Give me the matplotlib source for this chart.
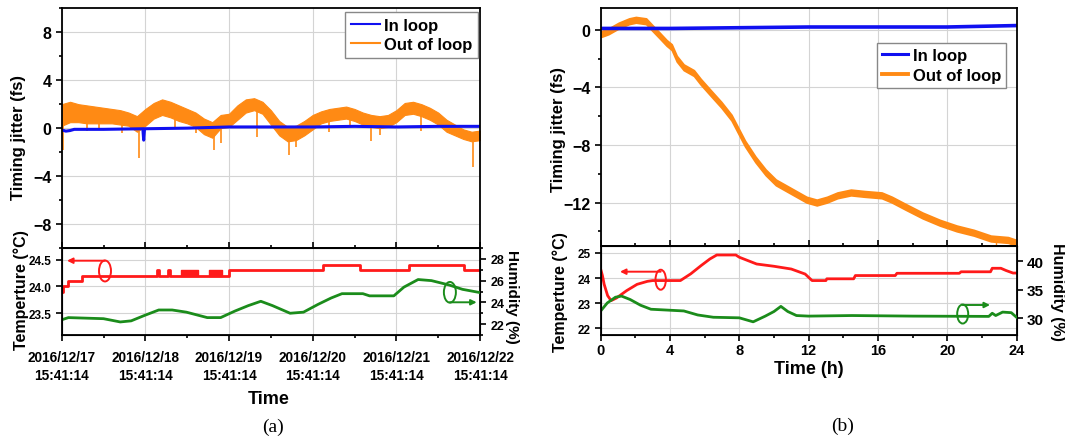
import matplotlib
matplotlib.use("Agg")
import matplotlib.pyplot as plt
from matplotlib.patches import Ellipse
from matplotlib.ticker import MultipleLocator

plt.rcParams["font.family"] = ["Liberation Sans", "DejaVu Sans"]
plt.rcParams["font.weight"] = "bold"

BLUE = "#1010f0"
ORANGE = "#ff8a14"
RED = "#ff1a1a"
GREEN = "#1b8c1b"

# ---- panel (a): 5 days of jitter, days since 2016/12/17 15:41:14 ----
days_a = [0.0, 0.1, 0.2, 0.3, 0.4, 0.5, 0.6, 0.7, 0.8, 0.9,
          1.0, 1.1, 1.2, 1.3, 1.4, 1.5, 1.6, 1.7, 1.8, 1.9,
          2.0, 2.1, 2.2, 2.3, 2.4, 2.5, 2.6, 2.7, 2.8, 2.9,
          3.0, 3.1, 3.2, 3.3, 3.4, 3.5, 3.6, 3.7, 3.8, 3.9,
          4.0, 4.1, 4.2, 4.3, 4.4, 4.5, 4.6, 4.7, 4.8, 4.9, 5.0]
out_a_lo = [0.2, 0.5, 0.5, 0.4, 0.4, 0.4, 0.4, 0.3, 0.2, -0.3,
            0.2, 0.8, 1.1, 0.9, 0.6, 0.4, 0.1, -0.5, -0.8, 0.0,
            0.1, 0.7, 1.3, 1.5, 1.2, 0.3, -0.6, -1.1, -1.0, -0.6,
            -0.1, 0.4, 0.6, 0.7, 0.8, 0.6, 0.3, 0.1, 0.0, 0.1,
            0.5, 1.1, 1.2, 1.0, 0.7, 0.3, -0.3, -0.6, -0.9, -1.1, -1.0]
out_a_hi = [2.0, 2.2, 2.0, 1.9, 1.8, 1.7, 1.6, 1.5, 1.3, 1.0,
            1.6, 2.1, 2.4, 2.2, 1.9, 1.6, 1.3, 0.8, 0.5, 1.1,
            1.2, 1.9, 2.4, 2.5, 2.2, 1.5, 0.6, 0.1, 0.2, 0.6,
            1.1, 1.4, 1.6, 1.7, 1.8, 1.6, 1.3, 1.1, 1.0, 1.1,
            1.5, 2.1, 2.2, 2.0, 1.7, 1.3, 0.7, 0.3, -0.1, -0.3, -0.2]
# downward glitches of the out-of-loop trace (day, lowest value, band value)
spike_a_day = [0.02, 0.3, 0.45, 0.72, 0.92, 1.35, 1.6, 1.82, 1.9, 2.33,
               2.72, 2.8, 3.2, 3.45, 3.7, 3.8, 4.3, 4.92]
spike_a_min = [-1.8, -0.2, 0.0, -0.4, -2.5, 0.0, -0.4, -1.8, -1.2, -0.7,
               -2.2, -1.6, -0.3, 0.2, -1.1, -0.6, -0.2, -3.2]
spike_a_top = [0.6, 0.8, 0.8, 0.7, 0.2, 1.2, 0.6, -0.3, 0.4, 1.8,
               -0.5, -0.4, 1.0, 1.2, 0.5, 0.4, 1.4, -0.6]

in_a_day = [0.0, 0.05, 0.1, 0.15, 0.3, 0.5, 0.97, 0.98, 0.99, 1.5,
            2.0, 2.5, 3.0, 3.5, 4.0, 4.5, 5.0]
in_a_val = [-0.15, -0.25, -0.2, -0.1, -0.1, -0.1, -0.05, -1.0, -0.05, 0.0,
            0.1, 0.1, 0.1, 0.15, 0.1, 0.15, 0.15]

temp_a_day = [0.0, 0.02, 0.07, 0.24, 1.14, 1.16, 1.27, 1.29,
              2.0, 3.12, 3.57, 4.15, 4.81, 5.0]
temp_a_val = [23.9, 24.0, 24.1, 24.2, 24.3, 24.2, 24.3, 24.2,
              24.3, 24.4, 24.3, 24.4, 24.3, 24.3]
# spans where the sensor flickers between 24.2 and 24.3
flicker_start = [1.43, 1.76]
flicker_width = [0.20, 0.16]

hum_a_day = [0.0, 0.08, 0.5, 0.7, 0.83, 0.99, 1.16, 1.32, 1.49, 1.74,
             1.90, 2.07, 2.23, 2.38, 2.52, 2.73, 2.89, 3.06, 3.22, 3.35,
             3.60, 3.68, 3.97, 4.09, 4.26, 4.42, 4.63, 4.79, 5.0]
hum_a_val = [22.4, 22.6, 22.5, 22.2, 22.3, 22.8, 23.3, 23.3, 23.1, 22.6,
             22.6, 23.2, 23.7, 24.1, 23.7, 23.0, 23.1, 23.8, 24.4, 24.8,
             24.8, 24.6, 24.6, 25.4, 26.1, 26.0, 25.6, 25.2, 24.9]

date_labels = ["2016/12/17\n15:41:14", "2016/12/18\n15:41:14",
               "2016/12/19\n15:41:14", "2016/12/20\n15:41:14",
               "2016/12/21\n15:41:14", "2016/12/22\n15:41:14"]

# ---- panel (b): 24 h run ----
hours_b = [0.0, 0.45, 1.04, 1.64, 2.03, 2.62, 3.01, 3.41, 3.80, 4.1,
           4.39, 4.79, 5.38, 5.77, 6.36, 6.96, 7.55, 7.94, 8.33, 8.93,
           9.52, 10.11, 10.70, 11.29, 11.88, 12.47, 13.06, 13.66, 14.44, 15.23,
           16.22, 16.81, 17.6, 18.58, 19.57, 20.55, 21.54, 22.52, 23.51, 24.0]
out_b = [-0.3, -0.1, 0.3, 0.6, 0.7, 0.6, 0.1, -0.4, -0.9, -1.2,
         -2.0, -2.6, -3.0, -3.6, -4.4, -5.2, -6.1, -7.0, -7.9, -9.0,
         -9.9, -10.6, -11.0, -11.4, -11.8, -12.0, -11.8, -11.5, -11.3, -11.4,
         -11.5, -11.8, -12.3, -12.9, -13.4, -13.8, -14.1, -14.5, -14.6, -14.8]
in_b_hour = [0, 4, 8, 12, 16, 20, 24]
in_b_val = [0.1, 0.1, 0.15, 0.2, 0.2, 0.2, 0.3]

temp_b_hour = [0.0, 0.1, 0.2, 0.4, 0.6, 0.9, 1.2, 1.5, 2.1, 2.7,
               3.0, 4.6, 5.2, 5.8, 6.3, 6.7, 7.8, 8.0, 9.0, 10.0,
               11.0, 11.8, 12.2, 13.0, 13.05, 14.6, 14.7, 17.0, 17.1, 20.7,
               20.8, 22.5, 22.6, 23.1, 23.4, 23.8, 24.0]
temp_b_val = [24.35, 24.1, 23.75, 23.3, 23.1, 23.2, 23.35, 23.5, 23.75, 23.87,
              23.9, 23.9, 24.17, 24.5, 24.76, 24.92, 24.92, 24.83, 24.56, 24.47,
              24.36, 24.16, 23.9, 23.9, 23.97, 23.97, 24.1, 24.1, 24.19, 24.19,
              24.25, 24.25, 24.39, 24.39, 24.3, 24.2, 24.2]

hum_b_hour = [0.0, 0.38, 0.85, 1.2, 1.7, 2.3, 2.9, 3.85, 4.8, 5.6,
              6.5, 8.0, 8.8, 9.5, 10.0, 10.4, 10.8, 11.3, 12.0, 14.5,
              18.0, 22.4, 22.6, 22.8, 23.2, 23.7, 24.0]
hum_b_val = [31.3, 32.7, 33.7, 33.9, 33.3, 32.3, 31.6, 31.45, 31.3, 30.6,
             30.2, 30.1, 29.4, 30.4, 31.2, 32.1, 31.2, 30.5, 30.4, 30.5,
             30.4, 30.35, 30.9, 30.5, 31.1, 31.0, 30.2]


def px_box(l, t, r, b):
    W, H = 1065.0, 439.0
    return [l / W, 1 - b / H, (r - l) / W, (b - t) / H]


def style(ax, xdir, fs):
    ax.tick_params(axis="x", which="both", direction=xdir, width=1.2,
                   labelsize=fs)
    ax.tick_params(axis="y", which="both", direction="out", width=1.2,
                   labelsize=fs)
    ax.tick_params(which="major", length=4)
    ax.tick_params(which="minor", length=2.5)
    for s in ax.spines.values():
        s.set_linewidth(1.3)
    ax.grid(True, which="major", color="#d4d4d4", lw=0.8)
    ax.set_axisbelow(True)


def ring(ax, cx, cy, w, h, ax_end, ay, color):
    ax.add_patch(Ellipse((cx, cy), w, h, transform=ax.transAxes, fill=False,
                         ec=color, lw=1.4, zorder=6))
    ax.annotate("", xy=(ax_end, ay), xytext=(cx, ay),
                xycoords="axes fraction", textcoords="axes fraction",
                arrowprops=dict(arrowstyle="-|>", color=color, lw=1.4,
                                mutation_scale=8, shrinkA=0, shrinkB=0),
                zorder=6)


fig = plt.figure(figsize=(10.65, 4.39), dpi=100)

# ===== (a) =====
ax1 = fig.add_axes(px_box(61.7, 9.3, 480, 249))
ax1.fill_between(days_a, out_a_lo, out_a_hi, color=ORANGE, lw=0.8)
ax1.vlines(spike_a_day, spike_a_min, spike_a_top, color=ORANGE, lw=1.2)
ax1.plot(in_a_day, in_a_val, color=BLUE, lw=2.2)
ax1.plot([], [], color=BLUE, lw=1.5, label="In loop")
ax1.plot([], [], color=ORANGE, lw=1.5, label="Out of loop")
ax1.set_xlim(0, 5)
ax1.set_ylim(-10, 10)
ax1.xaxis.set_major_locator(MultipleLocator(1))
ax1.xaxis.set_minor_locator(MultipleLocator(0.5))
ax1.yaxis.set_major_locator(MultipleLocator(4))
ax1.yaxis.set_minor_locator(MultipleLocator(2))
style(ax1, "in", 11.5)
ax1.tick_params(axis="x", labelbottom=False)
ax1.legend(loc="upper right", bbox_to_anchor=(0.995, 0.985), borderaxespad=0,
           fontsize=12, handlelength=1.7, handletextpad=0.25,
           labelspacing=0.25, borderpad=0.35, fancybox=False, framealpha=1,
           edgecolor="#888888")

ax2 = fig.add_axes(px_box(61.7, 249, 480, 336))
ax2.plot(temp_a_day, temp_a_val, color=RED, lw=2.0, drawstyle="steps-post")
ax2.broken_barh(list(zip(flicker_start, flicker_width)), (24.2, 0.1),
                color=RED)
ax2.set_xlim(0, 5)
ax2.set_ylim(23.09, 24.72)
ax2.set_xticks(range(6))
ax2.xaxis.set_minor_locator(MultipleLocator(0.5))
ax2.set_xticklabels(date_labels, linespacing=1.3)
ax2.set_yticks([23.5, 24.0, 24.5])
ax2.set_yticklabels(["23.5", "24.0", "24.5"])
style(ax2, "out", 8.5)
ax2.tick_params(axis="x", labelsize=9.8, pad=7)
ax2b = ax2.twinx()
ax2b.plot(hum_a_day, hum_a_val, color=GREEN, lw=2.0)
ax2b.set_ylim(21, 29)
ax2b.set_yticks([22, 24, 26, 28])
ax2b.yaxis.set_minor_locator(MultipleLocator(1))
ax2b.tick_params(axis="y", which="both", direction="out", width=1.2,
                 labelsize=9)
ax2b.tick_params(which="major", length=4)
ax2b.tick_params(which="minor", length=2.5)
ring(ax2, 0.1035, 0.736, 0.0287, 0.241, 0.0127, 0.854, RED)
ring(ax2, 0.928, 0.491, 0.0287, 0.238, 0.992, 0.376, GREEN)

# ===== (b) =====
ax3 = fig.add_axes(px_box(600.7, 9.3, 1016.5, 246.7))
ax3.fill_between(hours_b, [v - 0.2 for v in out_b], [v + 0.2 for v in out_b],
                 color=ORANGE, lw=1.2)
ax3.vlines([22.8], [-15.5], [-14.3], color=ORANGE, lw=1.0)
ax3.plot(in_b_hour, in_b_val, color=BLUE, lw=2.6)
ax3.plot([], [], color=BLUE, lw=2.2, label="In loop")
ax3.plot([], [], color=ORANGE, lw=2.8, label="Out of loop")
ax3.set_xlim(0, 24)
ax3.set_ylim(-15, 1.5)
ax3.xaxis.set_major_locator(MultipleLocator(4))
ax3.xaxis.set_minor_locator(MultipleLocator(2))
ax3.yaxis.set_major_locator(MultipleLocator(4))
ax3.yaxis.set_minor_locator(MultipleLocator(2))
style(ax3, "in", 11.5)
ax3.tick_params(axis="x", labelbottom=False)
ax3.legend(loc="upper right", bbox_to_anchor=(0.9745, 0.855), borderaxespad=0,
           fontsize=12, handlelength=1.6, handletextpad=0.25,
           labelspacing=0.3, borderpad=0.3, fancybox=False, framealpha=1,
           edgecolor="#888888")

ax4 = fig.add_axes(px_box(600.7, 246.7, 1016.5, 336))
ax4.plot(temp_b_hour, temp_b_val, color=RED, lw=2.0)
ax4.set_xlim(0, 24)
ax4.set_ylim(21.73, 25.29)
ax4.set_yticks([22, 23, 24, 25])
ax4.xaxis.set_major_locator(MultipleLocator(4))
ax4.xaxis.set_minor_locator(MultipleLocator(2))
style(ax4, "out", 8.5)
ax4.tick_params(axis="x", labelsize=10.5, pad=1.5)
ax4b = ax4.twinx()
ax4b.plot(hum_b_hour, hum_b_val, color=GREEN, lw=2.0)
ax4b.set_ylim(27.1, 42.7)
ax4b.set_yticks([30, 35, 40])
ax4b.tick_params(axis="y", which="both", direction="out", width=1.2,
                 labelsize=11, length=4)
ring(ax4, 0.1443, 0.619, 0.025, 0.224, 0.0464, 0.709, RED)
ring(ax4, 0.8706, 0.235, 0.0265, 0.213, 0.9363, 0.336, GREEN)

# ===== axis titles and panel tags =====
def ftext(x, y, s, **kw):
    fig.text(x / 1065.0, 1 - y / 439.0, s, ha="center", va="center", **kw)


ftext(19, 137, "Timing jitter (fs)", rotation=90, fontsize=12)
ftext(559, 130, "Timing jitter (fs)", rotation=90, fontsize=12)
ftext(21.7, 290, "Temperture (°C)", rotation=90, fontsize=11.5)
ftext(560, 292, "Temperture (°C)", rotation=90, fontsize=11.5)
ftext(511.7, 297, "Humidity (%)", rotation=270, fontsize=11)
ftext(1058, 292, "Humidity (%)", rotation=270, fontsize=11.5)
ftext(269, 400, "Time", fontsize=13)
ftext(809, 369.3, "Time (h)", fontsize=13)
ftext(272.7, 427.3, "(a)", fontsize=14, fontweight="normal",
      family=["Liberation Serif", "DejaVu Serif"])
ftext(842.7, 426.7, "(b)", fontsize=14, fontweight="normal",
      family=["Liberation Serif", "DejaVu Serif"])

fig.savefig("out.png", dpi=100)
